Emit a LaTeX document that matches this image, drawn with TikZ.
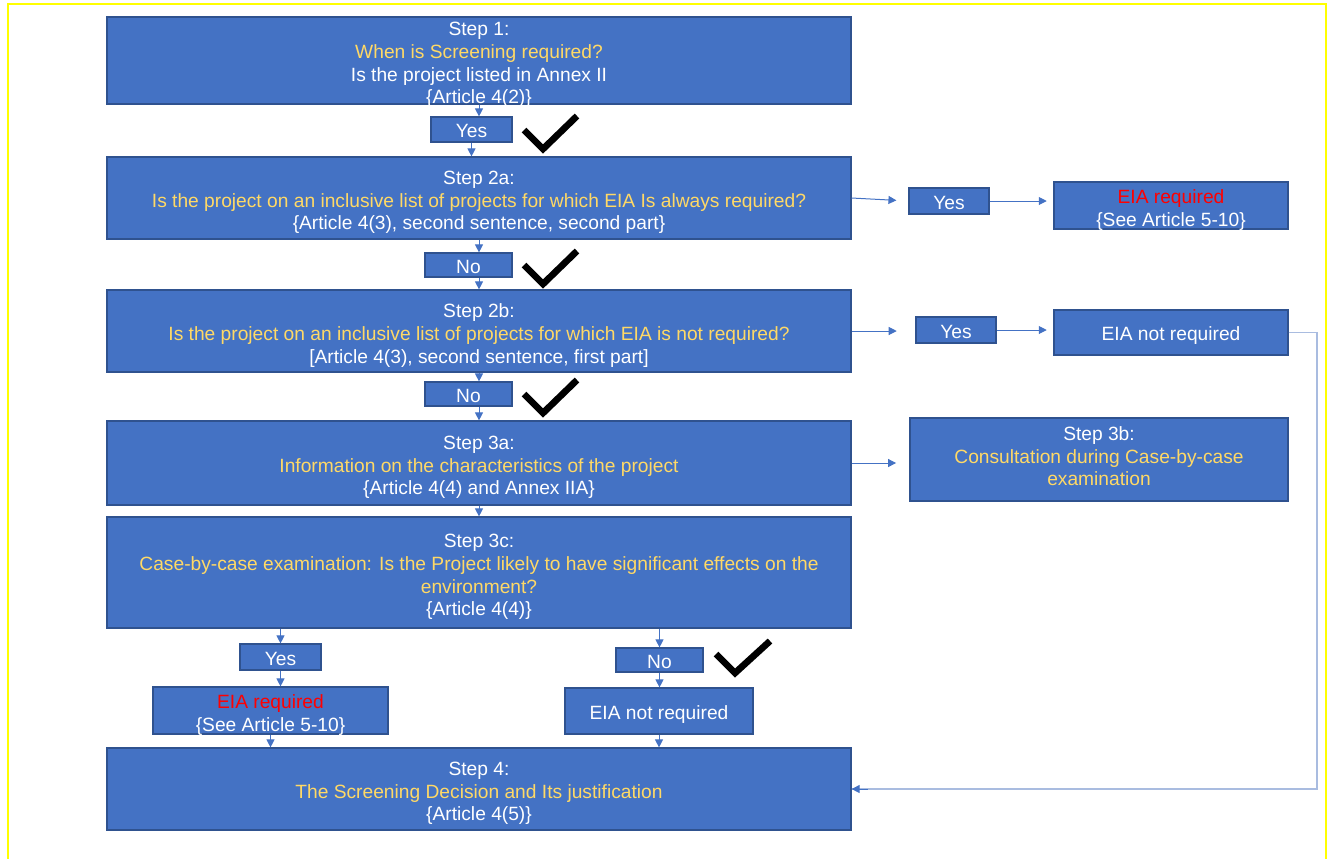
\documentclass[tikz,border=0pt]{standalone}
\usepackage{fontspec}
\setmainfont{Liberation Sans}
\usetikzlibrary{arrows.meta}
\definecolor{boxfill}{HTML}{4472C4}
\definecolor{boxline}{HTML}{2F528F}
\definecolor{txtyel}{HTML}{FFD966}
\definecolor{txtred}{HTML}{FF0000}
\definecolor{arrcol}{HTML}{4472C4}
\definecolor{fbcol}{HTML}{A9BCE0}
\definecolor{frame}{HTML}{FFFF00}
\newcommand{\yl}[1]{\textcolor{txtyel}{#1}}
\newcommand{\rd}[1]{\textcolor{txtred}{#1}}
\newcommand{\lnstrut}{\rule[-3pt]{0pt}{18pt}}
\tikzset{
  box/.style={draw=boxline, line width=0.9pt, fill=boxfill, text=white, align=center,
    inner sep=0pt, font=\fontsize{14.4}{17}\selectfont,
    execute at begin node=\lnstrut, execute at end node=\lnstrut},
  txt/.style={text=white, align=center, inner sep=0pt,
    font=\fontsize{14.4}{17}\selectfont, yshift=-3.4pt},
  arr/.style={draw=arrcol, line width=0.75pt, -{Triangle[length=6pt,width=6pt]}},
  fb/.style={draw=fbcol, line width=1pt},
  tick/.style={draw=black, line width=5pt, miter limit=10},
}
\begin{document}
\begin{tikzpicture}[x=0.75pt,y=-0.75pt]
\useasboundingbox (0,0) rectangle (1333,858);
\draw[frame, line width=1.2pt] (8,860) -- (8,4) -- (1326,4) -- (1326,860);

% main column
\node[box, minimum width=558pt, minimum height=65.25pt,
  label={[txt]center:{Step 1:\\\yl{When is Screening required?}\\Is the project listed in Annex II\\\{Article 4(2)\}}}]
  (s1) at (479,60.5) {};
\node[box, minimum width=60.75pt, minimum height=18.75pt] (y1) at (471.5,129.5) {Yes};
\node[box, minimum width=558pt, minimum height=61.5pt,
  label={[txt]center:{Step 2a:\\\yl{Is the project on an inclusive list of projects for which EIA Is always required?}\\\{Article 4(3), second sentence, second part\}}}]
  (s2a) at (479,198) {};
\node[box, minimum width=65.25pt, minimum height=16.5pt] (n1) at (468.5,265) {No};
\node[box, minimum width=558pt, minimum height=61.5pt,
  label={[txt]center:{Step 2b:\\\yl{Is the project on an inclusive list of projects for which EIA is not required?}\\{[}Article 4(3), second sentence, first part{]}}}]
  (s2b) at (479,331) {};
\node[box, minimum width=65.25pt, minimum height=16.5pt] (n2) at (468.5,394) {No};
\node[box, minimum width=558pt, minimum height=63pt,
  label={[txt]center:{Step 3a:\\\yl{Information on the characteristics of the project}\\\{Article 4(4) and Annex IIA\}}}]
  (s3a) at (479,463) {};
\node[box, minimum width=558pt, minimum height=83.25pt,
  label={[txt]center:{Step 3c:\\\yl{Case-by-case examination: Is the Project likely to have significant effects on the}\\\yl{environment?}\\\{Article 4(4)\}}}]
  (s3c) at (479,572.5) {};
\node[box, minimum width=60.75pt, minimum height=19.5pt] (y3) at (280.5,657) {Yes};
\node[box, minimum width=65.25pt, minimum height=16.5pt] (n3) at (659.5,660) {No};
\node[box, minimum width=176.25pt, minimum height=35.25pt,
  label={[txt]center:{\rd{EIA required}\\\{See Article 5-10\}}}]
  (eL) at (270.5,710.5) {};
\node[box, minimum width=141pt, minimum height=34.5pt] (eN) at (659,711) {EIA not required};
\node[box, minimum width=558pt, minimum height=61.5pt,
  label={[txt]center:{Step 4:\\\yl{The Screening Decision and Its justification}\\\{Article 4(5)\}}}]
  (s4) at (479,789) {};

% right column
\node[box, minimum width=60pt, minimum height=19.5pt] (y2a) at (949,201) {Yes};
\node[box, minimum width=175.5pt, minimum height=35.25pt,
  label={[txt]center:{\rd{EIA required}\\\{See Article 5-10\}}}]
  (eR) at (1171,205.5) {};
\node[box, minimum width=60pt, minimum height=19.5pt] (y2b) at (956,330) {Yes};
\node[box, minimum width=175.5pt, minimum height=33.75pt] (eNR) at (1171,332.5) {EIA not required};
\node[box, minimum width=283.5pt, minimum height=62.25pt,
  label={[txt, yshift=5.7pt]center:{Step 3b:\\\yl{Consultation during Case-by-case}\\\yl{examination}}}]
  (s3b) at (1099,459.5) {};

\coordinate (rx) at (1317,0);

% vertical connectors
\draw[arr] (s1.south) -- (s1.south |- y1.north);
\draw[arr] (y1.south) -- (y1.south |- s2a.north);
\draw[arr] (s2a.south) -- (s2a.south |- n1.north);
\draw[arr] (n1.south -| s2a.south) -- (s2b.north);
\draw[arr] (s2b.south) -- (s2b.south |- n2.north);
\draw[arr] (n2.south -| s2b.south) -- (s3a.north);
\draw[arr] (s3a.south) -- (s3c.north);
\draw[arr] (s3c.south -| y3.north) -- (y3.north);
\draw[arr] (y3.south) -- (y3.south |- eL.north);
\draw[arr] (eL.south) -- (eL.south |- s4.north);
\draw[arr] (s3c.south -| n3.north) -- (n3.north);
\draw[arr] (n3.south) -- (n3.south |- eN.north);
\draw[arr] (eN.south) -- (eN.south |- s4.north);

% horizontal connectors
\draw[arr, shorten >=9pt] (s2a.east) -- (y2a.west);
\draw[arr, shorten >=5pt] (y2a.east) -- (y2a.east -| eR.west);
\draw[arr, shorten >=14pt] (s2b.east) -- (s2b.east -| y2b.west);
\draw[arr, shorten >=5pt] (y2b.east) -- (y2b.east -| eNR.west);
\draw[arr, shorten >=10pt] (s3a.east) -- (s3a.east -| s3b.west);
\draw[fb] (eNR.east) -- (eNR.east -| rx) -- (rx |- s4.east) -- (s4.east);
\draw[arr] ([xshift=12pt]s4.east) -- (s4.east);

% check marks
\draw[tick] (524,130) -- (543,149) -- (577,116);
\draw[tick] (524,265) -- (543,284) -- (577,251);
\draw[tick] (524,394) -- (543,413) -- (577,380);
\draw[tick] (716,654) -- (735,673) -- (770,641);
\end{tikzpicture}
\end{document}
